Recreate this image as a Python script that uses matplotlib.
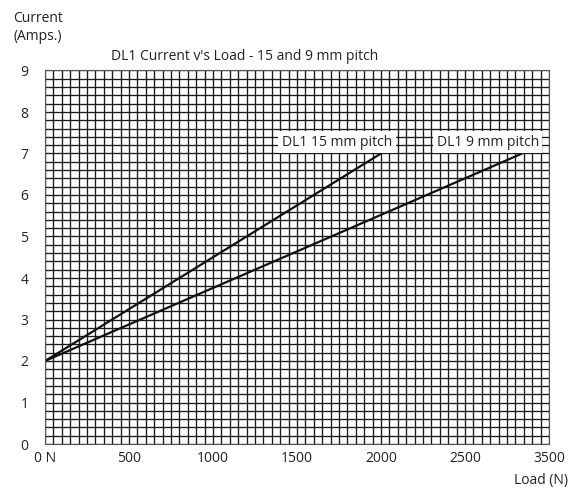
import matplotlib
matplotlib.use("Agg")
import matplotlib.pyplot as plt
import numpy as np

plt.rcParams['font.family'] = ['Open Sans', 'DejaVu Sans']

# Data
load_15mm = [0, 2000]
current_15mm = [2, 7]
load_9mm = [0, 2840]
current_9mm = [2, 7]
x_tick_values = [0, 500, 1000, 1500, 2000, 2500, 3000]
x_tick_labels = ["0 N", "500", "1000", "1500", "2000", "2500", "3500"]
y_tick_values = [0, 1, 2, 3, 4, 5, 6, 7, 8, 9]
label_15mm = "DL1 15 mm pitch"
label_9mm = "DL1 9 mm pitch"
title = "DL1 Current v's Load - 15 and 9 mm pitch"

FS = 10

fig = plt.figure(figsize=(5.71, 4.90), dpi=100)
W, H = 571, 490
left, right, top, bottom = 45, 549, 70.5, 444
ax = fig.add_axes([left / W, 1 - bottom / H, (right - left) / W, (bottom - top) / H])

ax.set_xlim(0, 3000)
ax.set_ylim(0, 9)
ax.set_xticks(x_tick_values)
ax.set_xticklabels(x_tick_labels)
ax.set_yticks(y_tick_values)
ax.set_xticks(np.arange(0, 3001, 50), minor=True)
ax.set_yticks(np.arange(0, 9.01, 0.2), minor=True)
ax.tick_params(which='both', length=0)
ax.tick_params(axis='x', pad=5, labelsize=FS, colors='#222222')
ax.tick_params(axis='y', pad=12, labelsize=FS, colors='#222222')
ax.grid(which='both', color='#1a1a1a', linewidth=0.95)
ax.set_axisbelow(True)
for s in ax.spines.values():
    s.set_color('#555555')
    s.set_linewidth(0.8)

ax.plot(load_15mm, current_15mm, color='#111111', linewidth=1.6, solid_capstyle='butt')
ax.plot(load_9mm, current_9mm, color='#111111', linewidth=1.6, solid_capstyle='butt')

box = dict(facecolor='white', edgecolor='none', pad=2.5)
ax.text(1738, 7.27, label_15mm, ha='center', va='center', fontsize=FS, color='#222222', bbox=box)
ax.text(2635, 7.27, label_9mm, ha='center', va='center', fontsize=FS, color='#222222', bbox=box)

fig.text(245 / W, 1 - 57 / H, title, ha='center', va='center', fontsize=FS, color='#222222')
fig.text(13 / W, 1 - 18 / H, "Current", ha='left', va='center', fontsize=FS, color='#222222')
fig.text(13 / W, 1 - 36 / H, "(Amps.)", ha='left', va='center', fontsize=FS, color='#222222')
fig.text(568 / W, 1 - 480 / H, "Load (N)", ha='right', va='center', fontsize=FS, color='#222222')

fig.savefig("out.png", dpi=100)
